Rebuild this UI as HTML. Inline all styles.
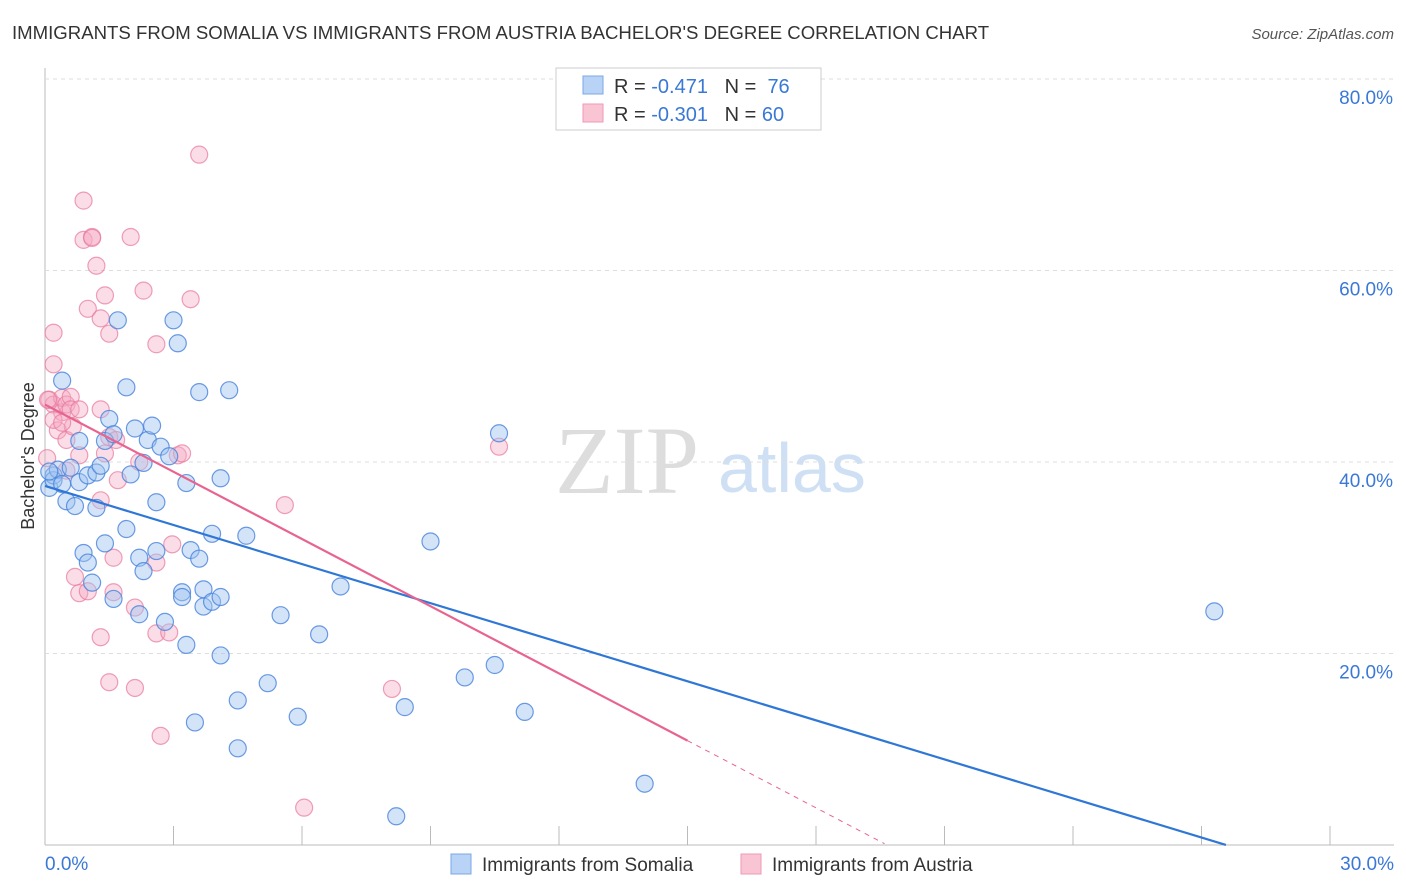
<!DOCTYPE html>
<html><head><meta charset="utf-8"><style>
body{margin:0;background:#fff;font-family:"Liberation Sans",sans-serif;}
svg{display:block}
</style></head><body>
<svg id="chart" width="1406" height="892" xmlns="http://www.w3.org/2000/svg">
<text x="12" y="39" font-size="18.6" fill="#333">IMMIGRANTS FROM SOMALIA VS IMMIGRANTS FROM AUSTRIA BACHELOR'S DEGREE CORRELATION CHART</text>
<text x="1394" y="39" font-size="15" fill="#555" font-style="italic" text-anchor="end">Source: ZipAtlas.com</text>
<text x="34" y="456" font-size="18" fill="#333" text-anchor="middle" transform="rotate(-90 34 456)">Bachelor's Degree</text>
<text x="555" y="493" font-size="96" fill="#ddd" font-family="Liberation Serif,serif">ZIP</text>
<text x="718" y="492" font-size="70" fill="#cfe0f5">atlas</text>
<g id="grid"></g><g id="pts"></g><g id="lines"></g>
<g>
<rect x="556" y="68" width="265" height="62" fill="#fff" stroke="#ccc"/>
<rect x="583" y="76" width="20" height="18" fill="#b8d3f5" stroke="#7aa7e3"/>
<rect x="583" y="104" width="20" height="18" fill="#f9c4d4" stroke="#ee9ab5"/>
<text x="614" y="93" font-size="20" fill="#333" xml:space="preserve">R = <tspan fill="#3a78d6">-0.471</tspan>   N =  <tspan fill="#3a78d6">76</tspan></text>
<text x="614" y="121" font-size="20" fill="#333" xml:space="preserve">R = <tspan fill="#3a78d6">-0.301</tspan>   N = <tspan fill="#3a78d6">60</tspan></text>
</g>
<g>
<rect x="451" y="854" width="20" height="20" fill="#b8d3f5" stroke="#7aa7e3"/>
<text x="482" y="871" font-size="19" fill="#333">Immigrants from Somalia</text>
<rect x="741" y="854" width="20" height="20" fill="#f9c4d4" stroke="#ee9ab5"/>
<text x="772" y="871" font-size="19" fill="#333">Immigrants from Austria</text>
</g>
</svg>
<script>
const xTicks=[0,3,6,9,12,15,18,21,24,27,30];
const yTicks=[20,40,60,80];
const somaliaX=[0.1,0.2,0.2,0.3,0.4,0.5,0.6,0.7,0.8,0.8,0.9,1.0,1.0,1.1,1.2,1.2,1.3,1.4,1.4,1.5,1.6,1.6,1.7,1.9,1.9,2.0,2.1,2.2,2.2,2.3,2.3,2.4,2.5,2.6,2.6,2.7,2.8,2.9,3.0,3.1,3.2,3.2,3.3,3.3,3.4,3.5,3.6,3.6,3.7,3.7,3.9,3.9,4.1,4.1,4.1,4.3,4.5,4.5,4.7,5.2,5.5,5.9,6.4,6.9,8.4,8.2,9.0,9.8,10.5,10.6,11.2,14.0,27.3,0.1,0.4];
const somaliaY=[37.3,38.6,38.1,39.2,48.5,35.9,39.4,35.4,37.9,42.2,30.5,38.6,29.5,27.4,35.2,38.9,39.6,31.5,42.2,44.5,42.9,25.7,54.8,47.8,33.0,38.7,43.5,24.1,30.0,39.9,28.6,42.3,43.8,35.8,30.7,41.6,23.3,40.6,54.8,52.4,26.4,25.9,20.9,37.8,30.8,12.8,29.9,47.3,26.7,24.9,25.4,32.5,19.8,25.9,38.3,47.5,15.1,10.1,32.3,16.9,24.0,13.4,22.0,27.0,14.4,3.0,31.7,17.5,18.8,43.0,13.9,6.4,24.4,39.0,37.7];
const austriaX=[0.1,0.2,0.2,0.2,0.3,0.4,0.4,0.5,0.5,0.6,0.6,0.7,0.8,0.8,0.8,0.9,0.9,1.0,1.0,1.1,1.1,1.2,1.3,1.3,1.3,1.4,1.4,1.5,1.5,1.5,1.6,1.6,1.7,2.0,2.1,2.1,2.3,2.6,2.6,2.6,2.7,2.9,2.97,3.1,3.2,3.4,3.6,5.6,6.05,8.1,10.6,0.05,0.2,0.65,0.07,0.4,0.5,1.66,2.2,1.3];
const austriaY=[46.5,46.0,53.5,50.2,43.3,45.2,46.7,42.3,46.0,46.8,45.5,28.0,45.5,26.3,40.7,63.2,67.3,56.0,26.5,63.5,63.4,60.5,21.7,36.0,55.0,57.4,40.9,53.4,17.0,42.6,30.0,26.4,38.1,63.5,24.8,16.4,57.9,29.5,22.1,52.3,11.4,22.2,31.4,40.7,40.9,57.0,72.1,35.5,3.9,16.3,41.6,40.4,44.4,43.7,46.5,44.1,39.1,42.3,40.0,45.5];
const X=v=>45+v*42.833, Y=v=>845-v*9.575;
const NS='http://www.w3.org/2000/svg';
function mk(tag,at,parent){const e=document.createElementNS(NS,tag);for(const k in at)e.setAttribute(k,at[k]);parent.appendChild(e);return e;}
const grid=document.getElementById('grid');
let ax=mk('line',{x1:45,y1:68,x2:45,y2:845,stroke:'#bbb'},grid);


let bx=mk('line',{x1:45,y1:845,x2:1394,y2:845,stroke:'#bbb'},grid);


yTicks.forEach(t=>{
 const l=mk('line',{x1:45,y1:Y(t),x2:1394,y2:Y(t),stroke:'#ddd','stroke-dasharray':'4,4'},grid);
 
 
 const tx=mk('text',{x:1393,y:Y(t)+25,'font-size':19,fill:'#3a78d6','text-anchor':'end'},grid);
 tx.textContent=t.toFixed(1)+'%';
 
 
});
xTicks.forEach(t=>{
 const l=mk('line',{x1:X(t),y1:826,x2:X(t),y2:845,stroke:'#bbb'},grid);
 
 
});
[[0,'0.0%','start',45],[30,'30.0%','end',1394]].forEach(a=>{
 const tx=mk('text',{x:a[3],y:870,'font-size':19,fill:'#3a78d6','text-anchor':a[2]},grid);
 tx.textContent=a[1];
 
 
});
const pts=document.getElementById('pts');
austriaX.forEach((x,i)=>{
 const c=mk('circle',{cx:X(x),cy:Y(austriaY[i]),r:8.5,fill:'rgba(245,170,195,0.4)',stroke:'rgba(232,120,155,0.7)','stroke-width':1.2},pts);
 
 
});
somaliaX.forEach((x,i)=>{
 const c=mk('circle',{cx:X(x),cy:Y(somaliaY[i]),r:8.5,fill:'rgba(160,195,240,0.45)',stroke:'rgba(70,130,220,0.8)','stroke-width':1.2},pts);
 
 
});
const lines=document.getElementById('lines');
const bl=v=>37.5-1.36*v, pl=v=>46-2.34*v;
let l1=mk('line',{x1:X(0),y1:Y(bl(0)),x2:X(27.57),y2:Y(bl(27.57)),stroke:'#2f77d6','stroke-width':2.2},lines);


let l2=mk('line',{x1:X(0),y1:Y(pl(0)),x2:X(15),y2:Y(pl(15)),stroke:'#e8648f','stroke-width':2.2},lines);


let l3=mk('line',{x1:X(15),y1:Y(pl(15)),x2:X(19.6),y2:Y(pl(19.6)),stroke:'#e8648f','stroke-width':1,'stroke-dasharray':'5,5'},lines);


</script>
</body></html>
